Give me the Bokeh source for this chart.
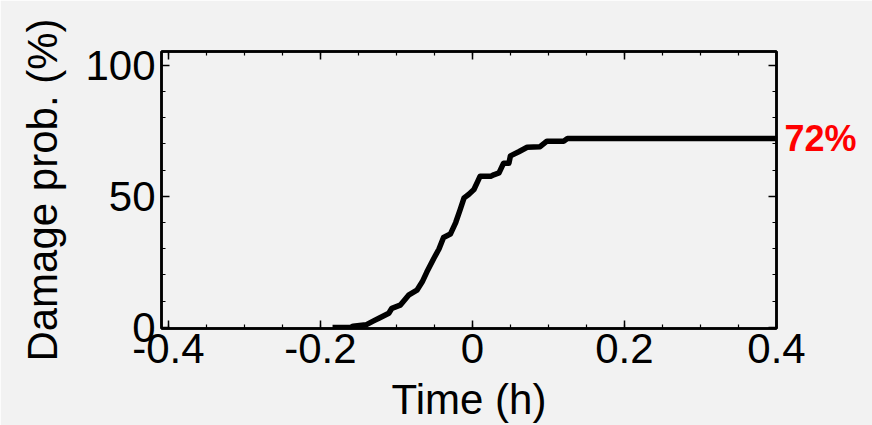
from bokeh.plotting import figure
from bokeh.models import (LinearAxis, FixedTicker, CustomJSTickFormatter, Range1d)
from bokeh.embed import file_html
from bokeh.resources import INLINE

# Data
time_h = [-0.184, -0.160, -0.157, -0.140, -0.130, -0.123, -0.110, -0.106, -0.095,
          -0.084, -0.073, -0.066, -0.060, -0.051, -0.044, -0.038, -0.029, -0.022,
          -0.016, -0.011, -0.005, 0.002, 0.007, 0.010, 0.024, 0.028, 0.035, 0.039,
          0.041, 0.048, 0.050, 0.061, 0.072, 0.089, 0.098, 0.120, 0.125, 0.400]
damage_prob = [0.0, 0.0, 0.5, 1.0, 2.5, 3.5, 5.4, 7.3, 8.5,
               12.3, 14.2, 17.4, 21.1, 26.2, 29.9, 34.3, 35.6, 40.0,
               45.0, 49.4, 50.7, 52.6, 55.7, 57.6, 57.6, 58.2, 58.9, 61.4,
               62.6, 62.6, 65.4, 67.0, 68.7, 68.9, 71.0, 71.0, 72.0, 72.0]
x_ticks = [-0.4, -0.2, 0.0, 0.2, 0.4]
y_ticks = [0, 50, 100]
final_label = "72%"
final_value = 72

FONT = "Liberation Sans"
BG = "#f2f2f2"

p = figure(width=872, height=425, output_backend="svg", toolbar_location=None,
           x_range=Range1d(-0.409, 0.4), y_range=Range1d(-0.4, 105.2),
           x_axis_type=None, y_axis_type=None,
           min_border_left=161, min_border_right=96, min_border_top=51,
           min_border_bottom=97)
p.background_fill_color = BG
p.border_fill_color = BG
p.outline_line_color = "black"
p.outline_line_width = 2.5
p.xgrid.visible = False
p.ygrid.visible = False

xfmt = CustomJSTickFormatter(code="return Math.abs(tick) < 1e-9 ? '0' : tick.toFixed(1);")
yfmt = CustomJSTickFormatter(code="return tick.toFixed(0);")

def style(ax, labels=True):
    ax.axis_line_color = "black"
    ax.axis_line_width = 2.5
    ax.major_tick_in = 8
    ax.major_tick_out = 0
    ax.minor_tick_in = 4
    ax.minor_tick_out = 0
    ax.major_tick_line_width = 1.5
    ax.minor_tick_line_width = 1.2
    ax.major_tick_line_color = "black"
    ax.minor_tick_line_color = "black"
    if labels:
        ax.major_label_text_font = FONT
        ax.major_label_text_font_size = "42px"
        ax.major_label_text_color = "black"
        ax.axis_label_text_font = FONT
        ax.axis_label_text_font_size = "42px"
        ax.axis_label_text_font_style = "normal"
        ax.axis_label_text_color = "black"
    else:
        ax.major_label_text_font_size = "0px"
        ax.major_label_text_alpha = 0

x_minor = [i * 0.05 - 0.4 for i in range(17)]

xb = LinearAxis(ticker=FixedTicker(ticks=x_ticks, minor_ticks=x_minor),
                formatter=xfmt, axis_label="Time (h)")
style(xb)
xb.major_label_standoff = 5
xb.axis_label_standoff = 10
p.add_layout(xb, "below")

xt = LinearAxis(ticker=FixedTicker(ticks=x_ticks, minor_ticks=x_minor))
style(xt, labels=False)
p.add_layout(xt, "above")

yl = LinearAxis(ticker=FixedTicker(ticks=y_ticks, minor_ticks=list(range(0, 101, 10))),
                formatter=yfmt, axis_label="Damage prob. (%)")
style(yl)
yl.major_label_standoff = 6
yl.axis_label_standoff = 16
p.add_layout(yl, "left")

yr = LinearAxis(ticker=FixedTicker(ticks=y_ticks, minor_ticks=list(range(0, 101, 10))))
style(yr, labels=False)
p.add_layout(yr, "right")

# Final-value annotation as a right-side axis label
ya = LinearAxis(ticker=FixedTicker(ticks=[final_value], minor_ticks=[]),
                major_label_overrides={final_value: final_label})
ya.axis_line_alpha = 0
ya.major_tick_line_alpha = 0
ya.minor_tick_line_alpha = 0
ya.major_tick_in = 0
ya.major_tick_out = 0
ya.major_label_standoff = 8
ya.major_label_text_font = FONT
ya.major_label_text_font_size = "36px"
ya.major_label_text_font_style = "bold"
ya.major_label_text_color = "red"
p.add_layout(ya, "right")

p.line(time_h, damage_prob, line_color="black", line_width=5.5, line_join="round")

open("out.html", "w").write(file_html(p, INLINE))
